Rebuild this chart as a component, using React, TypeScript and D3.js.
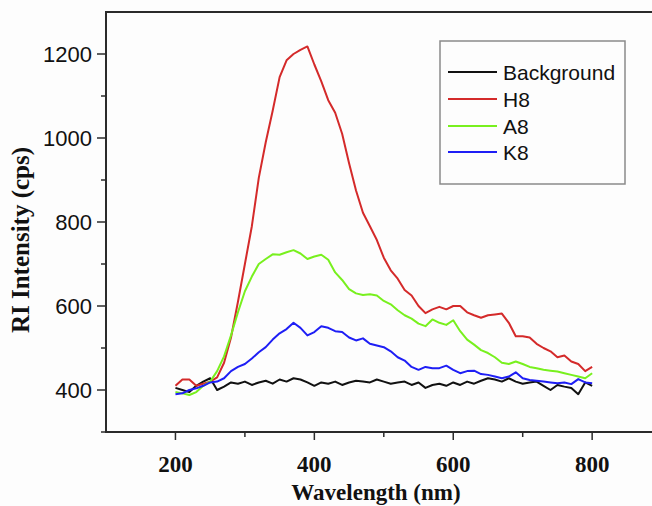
import React from "react";
import * as d3 from "d3";

const wavelengths: number[] = d3.range(200, 801, 10);

const background: number[] = [
  405, 400, 395, 410, 420, 428, 400, 408, 418, 415,
  420, 412, 418, 422, 415, 425, 420, 428, 425, 418,
  410, 418, 415, 420, 412, 418, 422, 420, 418, 425,
  420, 415, 418, 420, 412, 418, 405, 412, 415, 410,
  418, 412, 420, 415, 422, 428, 425, 420, 428, 420,
  415, 418, 420, 410, 400, 412, 408, 405, 390, 418,
  410,
];

const h8: number[] = [
  410, 425, 425, 410, 415, 420, 430, 465, 525, 610,
  700, 790, 905, 990, 1065, 1145, 1185, 1200, 1210, 1218,
  1175, 1135, 1090, 1060, 1010, 940, 875, 822, 790, 757,
  715, 685, 665, 638, 625, 600, 583, 592, 598, 592,
  600, 600, 585, 578, 572, 578, 580, 582, 560, 528,
  528, 525, 510, 500, 492, 478, 482, 468, 462, 445,
  455,
];

const a8: number[] = [
  395, 392, 388, 395, 410, 420, 445, 480, 530, 585,
  635, 670, 700, 712, 723, 722, 728, 733, 725, 712,
  718, 722, 710, 680, 662, 640, 630, 626, 628, 625,
  612, 604, 590, 578, 570, 558, 552, 568, 560, 555,
  566, 540, 520, 508, 495, 488, 478, 465, 462, 468,
  462, 455, 452, 448, 446, 444, 440, 436, 432, 428,
  440,
];

const k8: number[] = [
  390, 392, 400, 404, 410, 418, 420, 428, 445, 455,
  462, 475, 490, 502, 520, 535, 545, 560, 548, 530,
  538, 552, 548, 540, 538, 525, 518, 523, 510, 506,
  502, 492, 478, 470, 455, 448, 455, 452, 452, 458,
  448, 440, 445, 446, 438, 436, 432, 428, 432, 442,
  428, 424, 422, 420, 418, 416, 418, 414, 426, 418,
  416,
];

const seriesNames: string[] = ["Background", "H8", "A8", "K8"];
const seriesColors: string[] = ["#111111", "#d42a2a", "#78f01e", "#1e1ef5"];
const seriesValues: number[][] = [background, h8, a8, k8];

const xMajor: number[] = [200, 400, 600, 800];
const xMinor: number[] = [300, 500, 700];
const yMajor: number[] = [400, 600, 800, 1000, 1200];
const yMinor: number[] = [300, 500, 700, 900, 1100];

const W = 652;
const H = 506;

export default function App() {
  const x = d3.scaleLinear().domain([100, 900]).range([106, 661.6]);
  const y = d3.scaleLinear().domain([300, 1300]).range([432, 12]);
  const line = d3
    .line<[number, number]>()
    .x((d) => x(d[0]))
    .y((d) => y(d[1]));

  const axisColor = "#2b2b2b";
  const sans = "'Liberation Sans', Arial, sans-serif";
  const serif = "'Liberation Serif', 'Times New Roman', serif";

  const legendX = 440;
  const legendY = 41;
  const rowY = [72, 99, 126, 152];

  return (
    <svg
      width={W}
      height={H}
      style={{ position: "absolute", left: 0, top: 0, background: "#fdfdfd" }}
    >
      {seriesValues.map((vals, i) => (
        <path
          key={seriesNames[i]}
          d={line(wavelengths.map((w, j) => [w, vals[j]] as [number, number])) || ""}
          fill="none"
          stroke={seriesColors[i]}
          strokeWidth={2}
          strokeLinejoin="round"
        />
      ))}

      <line x1={x(100)} x2={W + 10} y1={y(1300)} y2={y(1300)} stroke={axisColor} strokeWidth={2} />
      <line x1={x(100)} x2={W + 10} y1={y(300)} y2={y(300)} stroke={axisColor} strokeWidth={2} />
      <line x1={x(100)} x2={x(100)} y1={y(1300) - 1} y2={y(300) + 1} stroke={axisColor} strokeWidth={2} />

      {yMajor.map((v) => (
        <g key={"ym" + v}>
          <line x1={x(100) - 9} x2={x(100)} y1={y(v)} y2={y(v)} stroke={axisColor} strokeWidth={1.5} />
          <text
            x={92}
            y={y(v)}
            textAnchor="end"
            dominantBaseline="central"
            fontFamily={sans}
            fontSize={22}
            fill="#111"
          >
            {v}
          </text>
        </g>
      ))}
      {yMinor.map((v) => (
        <line key={"yn" + v} x1={x(100) - 5} x2={x(100)} y1={y(v)} y2={y(v)} stroke={axisColor} strokeWidth={1.5} />
      ))}

      {xMajor.map((v) => (
        <g key={"xm" + v}>
          <line x1={x(v)} x2={x(v)} y1={y(300)} y2={y(300) + 8} stroke={axisColor} strokeWidth={1.5} />
          <text
            x={x(v)}
            y={472}
            textAnchor="middle"
            fontFamily={serif}
            fontWeight="bold"
            fontSize={23}
            fill="#111"
          >
            {v}
          </text>
        </g>
      ))}
      {xMinor.map((v) => (
        <line key={"xn" + v} x1={x(v)} x2={x(v)} y1={y(300)} y2={y(300) + 5} stroke={axisColor} strokeWidth={1.5} />
      ))}

      <text
        x={376}
        y={500}
        textAnchor="middle"
        fontFamily={serif}
        fontWeight="bold"
        fontSize={23}
        fill="#111"
      >
        Wavelength (nm)
      </text>
      <text
        transform="translate(29,240) rotate(-90)"
        textAnchor="middle"
        fontFamily={serif}
        fontWeight="bold"
        fontSize={25}
        fill="#111"
      >
        RI Intensity (cps)
      </text>

      <rect x={legendX} y={legendY} width={185} height={143} fill="none" stroke="#8a8a8a" strokeWidth={1.5} />
      {seriesNames.map((n, i) => (
        <g key={"lg" + n}>
          <line x1={448} x2={497} y1={rowY[i]} y2={rowY[i]} stroke={seriesColors[i]} strokeWidth={2} />
          <text
            x={503}
            y={rowY[i]}
            dominantBaseline="central"
            fontFamily={sans}
            fontSize={21}
            fill="#111"
          >
            {n}
          </text>
        </g>
      ))}
    </svg>
  );
}
